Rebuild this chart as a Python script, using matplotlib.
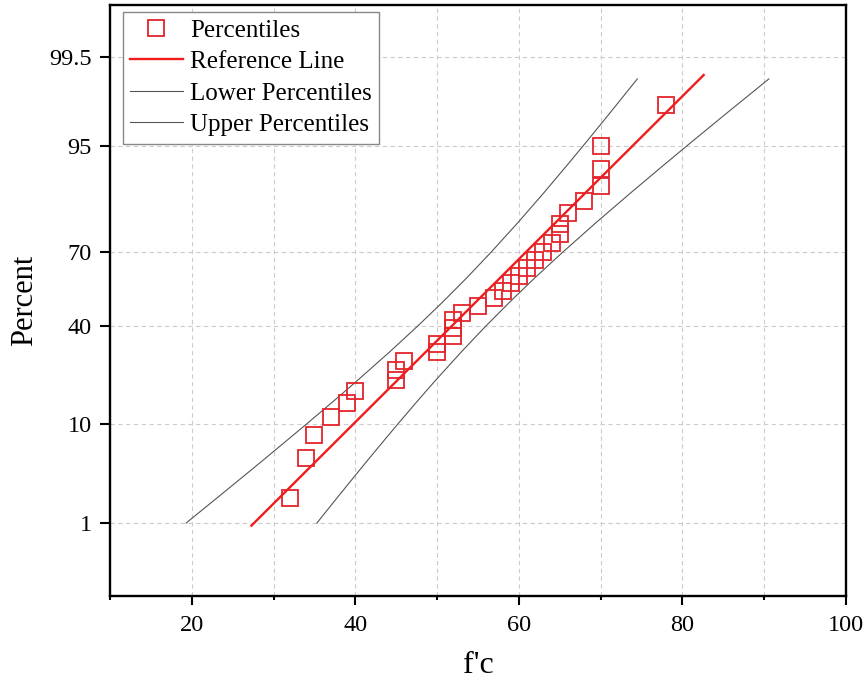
import numpy as np
import matplotlib
matplotlib.use("Agg")
import matplotlib.pyplot as plt
from matplotlib.ticker import FixedLocator, MultipleLocator, NullFormatter
from statistics import NormalDist

# ---------------- data ----------------
fc_values = [32, 34, 35, 37, 39, 40, 45, 45, 46, 50, 50, 52, 52, 52, 53, 55,
             57, 58, 59, 60, 61, 62, 63, 64, 65, 65, 66, 68, 70, 70, 70, 78]
percentiles = [1.938, 5.039, 8.140, 11.240, 14.341, 17.442, 20.543, 23.643,
               26.744, 29.845, 32.946, 36.047, 39.147, 42.248, 45.349, 48.450,
               51.550, 54.651, 57.752, 60.853, 63.953, 67.054, 70.155, 73.256,
               76.357, 79.457, 82.558, 85.659, 88.760, 91.860, 94.961, 98.062]

ref_x = [27.3, 82.6]
ref_pct = [0.93, 99.15]

band_pct = [1, 2, 3.5, 5, 7.5, 10, 15, 20, 30, 40, 50, 60, 70, 80, 87.5,
            92.5, 95, 97.5, 99.05]
lower_x = [19.31, 23.21, 26.65, 29.01, 31.88, 34.08, 37.44, 40.06, 44.22, 47.64,
           50.70, 53.63, 56.62, 59.96, 63.08, 65.91, 67.89, 70.88, 74.48]
upper_x = [35.30, 37.84, 40.12, 41.71, 43.69, 45.23, 47.66, 49.64, 52.98, 55.97,
           58.90, 61.96, 65.38, 69.54, 73.72, 77.72, 80.59, 85.05, 90.57]

y_ticks = [1, 10, 40, 70, 95, 99.5]
y_ticklabels = ["1", "10", "40", "70", "95", "99.5"]
x_ticks = [20, 40, 60, 80, 100]

# ---------------- probability scale ----------------
_nd = NormalDist()
_ppf = np.vectorize(lambda p: _nd.inv_cdf(min(max(p / 100.0, 1e-12), 1 - 1e-12)),
                    otypes=[float])
_cdf = np.vectorize(lambda z: 100.0 * _nd.cdf(z), otypes=[float])

def fwd(p):
    return _ppf(np.asarray(p, dtype=float))

def inv(z):
    return _cdf(np.asarray(z, dtype=float))

plt.rcParams['font.family'] = ['Liberation Serif', 'DejaVu Serif']

W, H = 866, 691
L, R, T, B = 110, 846, 5, 596
fig = plt.figure(figsize=(W/100, H/100), dpi=100)
ax = fig.add_axes([L/W, 1 - B/H, (R-L)/W, (B-T)/H])
ax.set_yscale('function', functions=(fwd, inv))

red = '#e3242b'
ax.plot(fc_values, percentiles, linestyle='none', marker='s', markersize=11.3,
        markerfacecolor='none', markeredgecolor=red, markeredgewidth=1.3,
        label='Percentiles', zorder=4)
ax.plot(ref_x, ref_pct, color='#f01c1c', lw=1.7, label='Reference Line', zorder=3)
ax.plot(lower_x, band_pct, color='#555555', lw=0.8, label='Lower Percentiles', zorder=2)
ax.plot(upper_x, band_pct, color='#555555', lw=0.8, label='Upper Percentiles', zorder=2)

ax.set_xlim(10, 100)
ax.set_ylim(0.0987, 99.9105)

ax.yaxis.set_major_locator(FixedLocator(y_ticks))
ax.set_yticklabels(y_ticklabels)
ax.yaxis.set_minor_locator(FixedLocator([]))
ax.xaxis.set_major_locator(FixedLocator(x_ticks))
ax.xaxis.set_minor_locator(MultipleLocator(10))
ax.xaxis.set_minor_formatter(NullFormatter())

ax.grid(True, which='major', axis='y', color='#cccccc', ls=(0, (4, 3)), lw=0.8)
ax.grid(True, which='both', axis='x', color='#cccccc', ls=(0, (4, 3)), lw=0.8)
ax.set_axisbelow(True)

for s in ax.spines.values():
    s.set_linewidth(1.7)
ax.tick_params(axis='both', which='both', direction='out', width=1.5, labelsize=17.5)
ax.tick_params(axis='x', which='major', length=6.5, pad=7.0, top=False)
ax.tick_params(axis='x', which='minor', length=3.2, top=False)
ax.tick_params(axis='y', which='major', length=7.2, pad=6, right=False)

ax.set_xlabel("f'c", fontsize=23, labelpad=11)
ax.set_ylabel("Percent", fontsize=22, labelpad=7)

leg = ax.legend(loc='upper left', bbox_to_anchor=(12.7/(R-L), 1 - 6.7/(B-T)),
                borderaxespad=0, fontsize=18, frameon=True, fancybox=False,
                edgecolor='#888888', framealpha=1, handlelength=2.1,
                handletextpad=0.3, labelspacing=0.36, borderpad=0.3)
leg.get_frame().set_linewidth(1.0)

fig.savefig('out.png', dpi=100)
